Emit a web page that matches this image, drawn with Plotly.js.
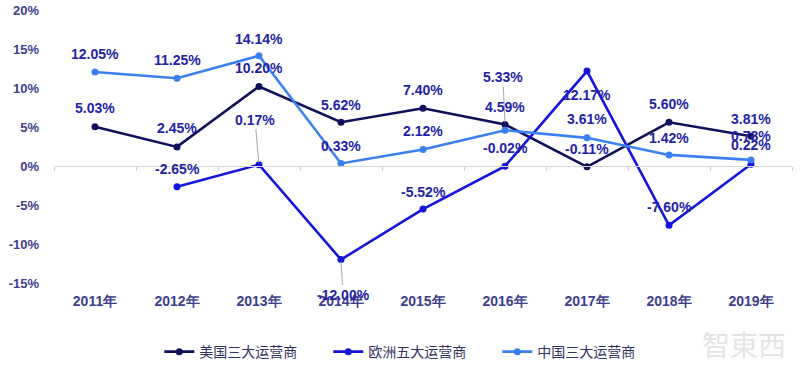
<!DOCTYPE html>
<html>
<head>
<meta charset="utf-8">
<script src="https://cdn.plot.ly/plotly-3.0.1.min.js"></script>
<style>
html,body{margin:0;padding:0;background:#fff;}
#chart{width:800px;height:369px;}
</style>
</head>
<body>
<div id="chart"></div>
<script>
// ---- data ----
var years = ['2011年','2012年','2013年','2014年','2015年','2016年','2017年','2018年','2019年'];
var usValues     = [5.03, 2.45, 10.20, 5.62, 7.40, 5.33, -0.11, 5.60, 3.81];
var europeValues = [null, -2.65, 0.17, -12.00, -5.52, -0.02, 12.17, -7.60, 0.22];
var chinaValues  = [12.05, 11.25, 14.14, 0.33, 2.12, 4.59, 3.61, 1.42, 0.78];
var seriesNames  = ['美国三大运营商', '欧洲五大运营商', '中国三大运营商'];
var yTickVals    = [-15, -10, -5, 0, 5, 10, 15, 20];
var yTickText    = ['-15%', '-10%', '-5%', '0%', '5%', '10%', '15%', '20%'];

// label placement (pixel offsets, positive = above point) and leader-line flags
var usLabelDy     = [19, 19, 18, 17, 18, 47, 18, 18, 17];
var usLabelDx     = [0, 0, 0, 0, 0, -2, 0, 0, 0];
var usLeader      = [0, 0, 0, 0, 0, 1, 0, 0, 0];
var europeLabelDy = [0, 18, 45, -35, 17, 18, -24, 18, 19];
var europeLabelDx = [0, 0, -4, 2, 0, 0, 0, 0, 0];
var europeLeader  = [0, 0, 1, 1, 0, 0, 0, 0, 0];
var chinaLabelDy  = [18, 18, 17, 17, 18, 23, 19, 17, 24];
var chinaLabelDx  = [0, 0, 0, 0, 0, 0, 0, 0, 0];
var chinaLeader   = [0, 0, 0, 0, 0, 0, 0, 0, 0];

var colors = ['#10105a', '#1414dc', '#3b80f2'];
var labelColor = '#2323a6';
var tickColor = '#3e3e8e';

function mkTrace(vals, name, color) {
  return {
    x: years, y: vals, name: name, type: 'scatter', mode: 'lines+markers',
    line: {color: color, width: 2.6},
    marker: {color: color, size: 7},
    connectgaps: false,
    hoverinfo: 'x+y+name'
  };
}

var traces = [
  mkTrace(usValues, seriesNames[0], colors[0]),
  mkTrace(europeValues, seriesNames[1], colors[1]),
  mkTrace(chinaValues, seriesNames[2], colors[2])
];

var annotations = [];
function addLabels(vals, dy, dx, leader) {
  for (var i = 0; i < vals.length; i++) {
    if (vals[i] === null) continue;
    var txt = vals[i].toFixed(2) + '%';
    var a = {
      x: years[i], y: vals[i], xref: 'x', yref: 'y', text: txt,
      font: {family: 'Liberation Sans, Arial, sans-serif', size: 14, color: labelColor, weight: 'bold'}
    };
    if (leader[i]) {
      a.showarrow = true; a.arrowhead = 0; a.arrowwidth = 1; a.arrowcolor = '#a8a8a8';
      a.ax = dx[i]; a.ay = -dy[i]; a.standoff = 2;
    } else {
      a.showarrow = false; a.xshift = dx[i]; a.yshift = dy[i];
    }
    annotations.push(a);
  }
}
addLabels(usValues, usLabelDy, usLabelDx, usLeader);
addLabels(europeValues, europeLabelDy, europeLabelDx, europeLeader);
addLabels(chinaValues, chinaLabelDy, chinaLabelDx, chinaLeader);

// watermark
annotations.push({
  xref: 'paper', yref: 'paper', x: 0.935, y: -0.225, xanchor: 'center', yanchor: 'middle',
  showarrow: false,
  text: '智東西', font: {family: 'Noto Sans CJK TC', size: 28, color: '#e4e4e4'}
});

var yMin = -15, yMax = 20;
var layout = {
  width: 800, height: 369,
  margin: {l: 54, r: 8, t: 10, b: 86},
  paper_bgcolor: '#ffffff', plot_bgcolor: '#ffffff',
  showlegend: true,
  legend: {
    orientation: 'h', xref: 'container', yref: 'container',
    x: 0.516, xanchor: 'center', y: 0.046, yanchor: 'middle',
    entrywidth: 124, entrywidthmode: 'pixels',
    font: {family: 'Noto Sans CJK SC', size: 14, color: '#33335f'}
  },
  xaxis: {
    type: 'category', categoryarray: years, range: [-0.5, 8.5],
    showline: false, showgrid: false, zeroline: false, ticks: '',
    ticklabelstandoff: 8,
    tickfont: {family: 'Liberation Sans, Arial, sans-serif', size: 14, color: tickColor, weight: 'bold'},
    fixedrange: true
  },
  xaxis2: {
    type: 'category', categoryarray: years, range: [-0.5, 8.5],
    overlaying: 'x', anchor: 'free', position: (0 - yMin) / (yMax - yMin),
    showline: true, linecolor: '#d4d4d4', linewidth: 1,
    ticks: 'outside', tickson: 'boundaries', ticklen: 4, tickcolor: '#d4d4d4',
    showticklabels: false, showgrid: false, zeroline: false
  },
  yaxis: {
    range: [yMin, yMax], tickvals: yTickVals, ticktext: yTickText,
    showgrid: false, zeroline: false, showline: false, ticks: '',
    ticklabelstandoff: 14,
    tickfont: {family: 'Liberation Sans, Arial, sans-serif', size: 13, color: tickColor, weight: 'bold'},
    fixedrange: true
  },
  annotations: annotations
};

// a hidden trace so the second axis is drawn
traces.push({x: years, y: usValues, xaxis: 'x2', yaxis: 'y', type: 'scatter', mode: 'none',
  showlegend: false, hoverinfo: 'skip'});

Plotly.newPlot('chart', traces, layout, {displayModeBar: false, staticPlot: false});
</script>
</body>
</html>
